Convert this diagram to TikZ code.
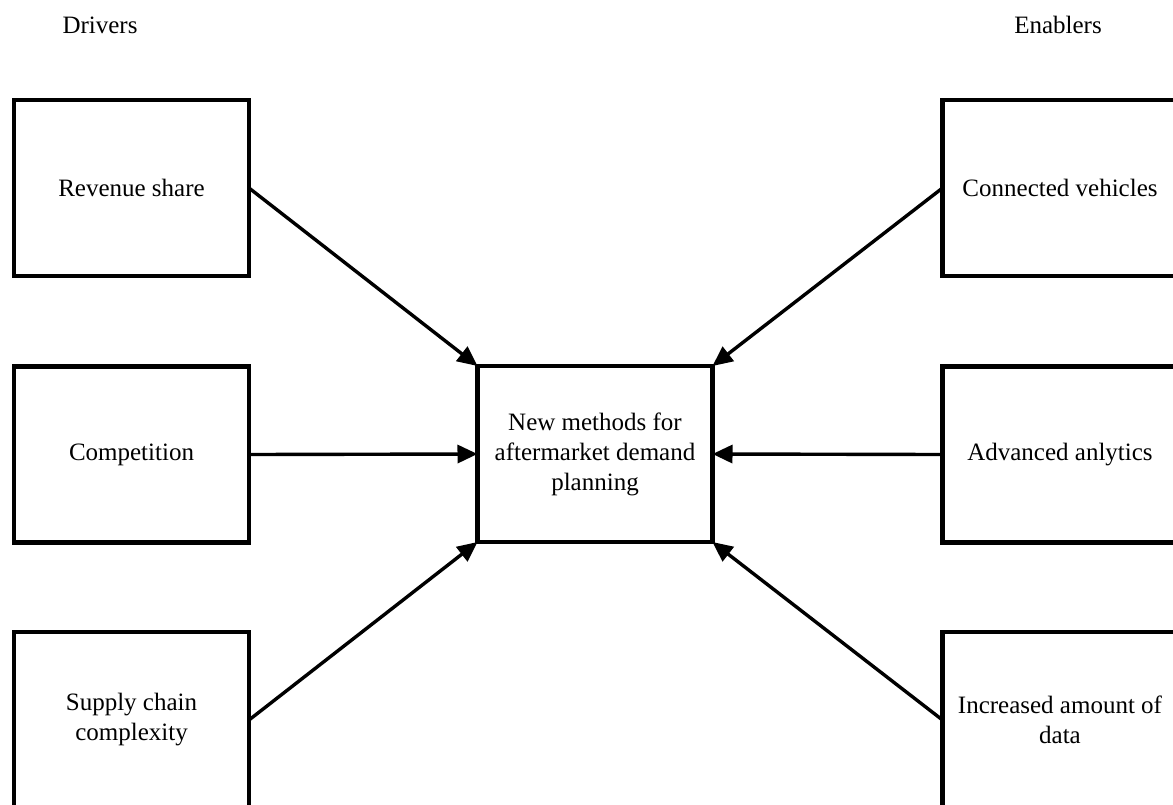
\documentclass[tikz,border=0pt]{standalone}
\usepackage{fontspec}
\setmainfont{Liberation Serif}
\usetikzlibrary{arrows.meta}
\begin{document}
\begin{tikzpicture}[x=0.5pt,y=-0.5pt,
  every node/.style={font=\fontsize{12.5}{15}\selectfont},
  factor/.style={draw, line width=2.2pt, minimum width=117.5pt, minimum height=88pt,
    inner sep=2pt, outer sep=0pt, align=center},
  core/.style={factor},
  link/.style={line width=1.7pt, -{Triangle[length=10pt,width=9pt]}}]
  \useasboundingbox (0,0) rectangle (1173,804);
  \clip (0,0) rectangle (1173,804);

  % column headings
  \node (hdrL) at (100,25) {Drivers};
  \node (hdrR) at (1058,25) {Enablers};

  % drivers
  \node[factor] (rev)  at (131.5,188)   {Revenue share};
  \node[factor] (comp) at (131.5,454.5) {Competition};
  \node[factor] (scc)  at (131.5,720)   {Supply chain\\complexity};

  % enablers
  \node[factor] (conn) at (1060,188)   {Connected vehicles};
  \node[factor] (ana)  at (1060,454.5) {Advanced anlytics};
  \node[factor] (data) at (1060,720)   {Increased amount of\\data};

  % outcome
  \node[core] (nm) at (595,454) {New methods for\\aftermarket demand\\planning};

  % influences
  \draw[link] (rev.east)  -- (nm.north west);
  \draw[link] (comp.east) -- (nm.west);
  \draw[link] (scc.east)  -- (nm.south west);
  \draw[link] (conn.west) -- (nm.north east);
  \draw[link] (ana.west)  -- (nm.east);
  \draw[link] (data.west) -- (nm.south east);
\end{tikzpicture}
\end{document}
